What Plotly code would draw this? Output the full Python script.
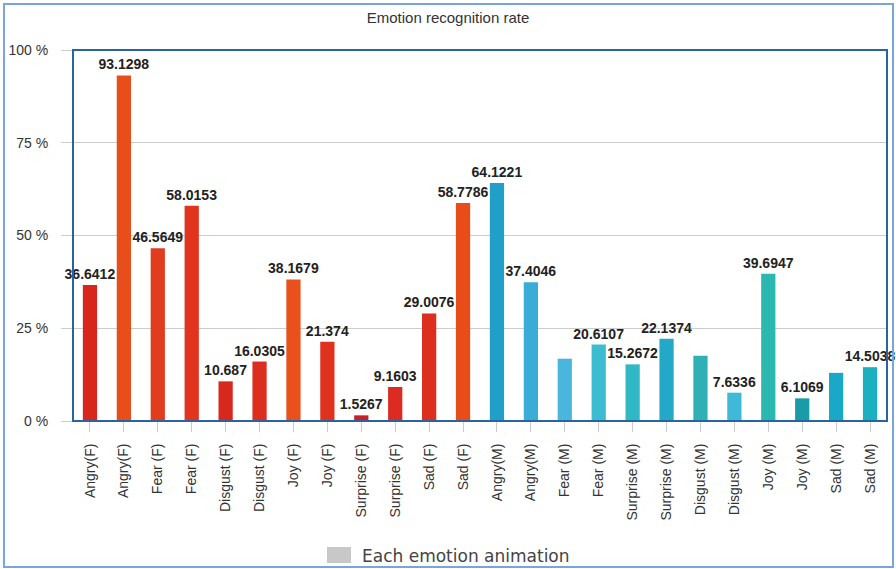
import plotly.graph_objects as go

categories = ["Angry(F)", "Angry(F)", "Fear (F)", "Fear (F)", "Disgust (F)", "Disgust (F)",
              "Joy (F)", "Joy (F)", "Surprise (F)", "Surprise (F)", "Sad (F)", "Sad (F)",
              "Angry(M)", "Angry(M)", "Fear (M)", "Fear (M)", "Surprise (M)", "Surprise (M)",
              "Disgust (M)", "Disgust (M)", "Joy (M)", "Joy (M)", "Sad (M)", "Sad (M)"]
values = [36.6412, 93.1298, 46.5649, 58.0153, 10.687, 16.0305,
          38.1679, 21.374, 1.5267, 9.1603, 29.0076, 58.7786,
          64.1221, 37.4046, 16.7939, 20.6107, 15.2672, 22.1374,
          17.5573, 7.6336, 39.6947, 6.1069, 12.9771, 14.5038]
labels = ["36.6412", "93.1298", "46.5649", "58.0153", "10.687", "16.0305",
          "38.1679", "21.374", "1.5267", "9.1603", "29.0076", "58.7786",
          "64.1221", "37.4046", "", "20.6107", "15.2672", "22.1374",
          "", "7.6336", "39.6947", "6.1069", "", "14.5038"]
y_ticks = [0, 25, 50, 75, 100]
y_tick_text = ["0 %", "25 %", "50 %", "75 %", "100 %"]
series_name = "Each emotion animation"
title = "Emotion recognition rate"

bar_colors = ["#d8261c", "#e84e1a", "#e23c1e", "#e0341e", "#d8281e", "#dc2e1e",
              "#e8501c", "#de321e", "#c8202a", "#dc2c22", "#dc301e", "#e84c18",
              "#20a0c8", "#3aacd8", "#4ab6dc", "#3cbcd0", "#30b8c4", "#24a8c8",
              "#2eb0b4", "#40b8d8", "#2ab8b0", "#1a9ca8", "#1aa8c8", "#1ab0c0"]

x = list(range(len(categories)))

fig = go.Figure()
fig.add_trace(go.Bar(
    x=x, y=values, text=labels, textposition="outside", constraintext="none",
    textfont=dict(family="Liberation Sans, Arial", size=14, color="#222222", weight="bold"),
    marker=dict(color=bar_colors, line=dict(width=0)),
    cliponaxis=False, showlegend=False, hoverinfo="skip", name=series_name,
))

fig.update_layout(
    width=896, height=569,
    margin=dict(l=73, r=9, t=50, b=148, autoexpand=False),
    paper_bgcolor="white", plot_bgcolor="white",
    bargap=0.58,
    showlegend=False,
    font=dict(family="Liberation Sans, Arial", size=13, color="#333333"),
    title=dict(text=title, x=0.5, xanchor="center", y=0.968, yanchor="middle",
               font=dict(size=15, color="#333333")),
    xaxis=dict(tickmode="array", tickvals=x, ticktext=categories, tickangle=-90,
               range=[-0.5, len(categories) - 0.5], showgrid=False, automargin=False,
               ticks="outside", ticklen=10, tickcolor="#cccccc", tickson="boundaries",
               ticklabelstandoff=6,
               tickfont=dict(size=14, color="#333333"), showline=False),
    yaxis=dict(range=[0, 100], tickmode="array", tickvals=y_ticks, ticktext=y_tick_text,
               showgrid=True, gridcolor="#cccccc", gridwidth=1, automargin=False,
               ticks="outside", ticklen=11, tickcolor="#cccccc", ticklabelstandoff=10,
               tickfont=dict(size=14, color="#333333"), zeroline=False, showline=False),
    shapes=[
        dict(type="rect", xref="paper", yref="paper", x0=0, x1=1, y0=0, y1=1,
             line=dict(color="#2a64a0", width=2), layer="above"),
        dict(type="rect", xref="paper", yref="paper", x0=-0.0848, x1=1.0074,
             y0=-0.3935, y1=1.1240, line=dict(color="#7aa4dc", width=2)),
        dict(type="rect", xref="paper", yref="paper", x0=0.312, x1=0.3415,
             y0=-0.3827, y1=-0.3396, fillcolor="#c8c8c8", line=dict(width=0)),
    ],
    annotations=[
        dict(text=series_name, xref="paper", yref="paper", x=0.3526, y=-0.365,
             xanchor="left", yanchor="middle", showarrow=False,
             font=dict(family="DejaVu Sans", size=17, color="#444444")),
    ],
)

fig.write_html("out.html")
